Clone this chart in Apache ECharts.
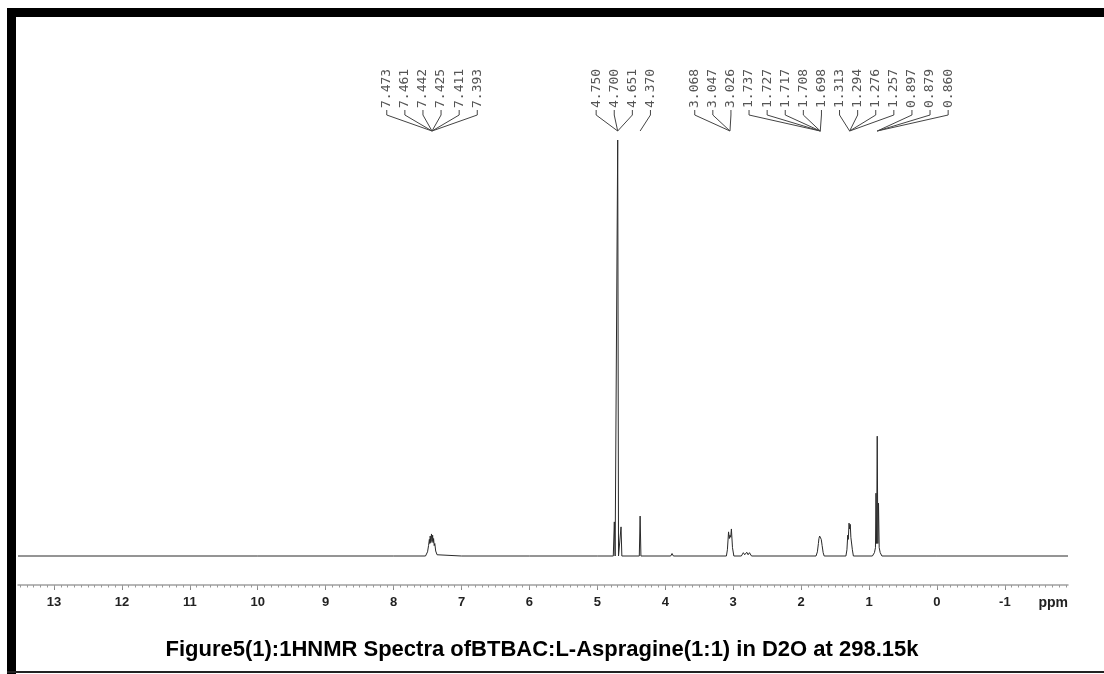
<!DOCTYPE html>
<html>
<head>
<meta charset="utf-8">
<script src="https://cdn.jsdelivr.net/npm/echarts@6/dist/echarts.min.js"></script>
<style>
  html, body { margin: 0; padding: 0; background: #fff; }
  #chart { width: 1104px; height: 674px; }
</style>
</head>
<body>
<div id="chart"></div>
<script>
// ---- DATA ----
const ppmRange = [-1.93, 13.53];               // axis extent (ppm)
const majorTicks = [13, 12, 11, 10, 9, 8, 7, 6, 5, 4, 3, 2, 1, 0, -1];
const axisUnit = 'ppm';
const titleText = 'Figure5(1):1HNMR Spectra ofBTBAC:L-Aspragine(1:1) in D2O at 298.15k';

// spectrum points [ppm, relative intensity], in descending ppm
const baselineStart = [[13.53, 0], [10.0, 0], [8.0, 0]];
const aromaticCluster = [
  [7.53, 0], [7.50, 1.0], [7.485, 2.5], [7.473, 4.0], [7.467, 3.0], [7.461, 4.8],
  [7.452, 3.2], [7.442, 5.3], [7.433, 3.5], [7.425, 5.0], [7.418, 3.2], [7.411, 4.2],
  [7.402, 2.5], [7.393, 3.0], [7.38, 1.2], [7.36, 0.3], [7.34, 0]
];
const baselineMid = [[7.0, 0], [6.0, 0], [5.0, 0]];
const waterRegion = [
  [4.765, 0], [4.750, 8.2], [4.738, 0], [4.712, 0], [4.700, 100], [4.688, 0],
  [4.663, 0], [4.651, 7.0], [4.639, 0],
  [4.382, 0], [4.370, 9.6], [4.358, 0],
  [3.92, 0], [3.90, 0.6], [3.88, 0]
];
const nMethyleneCluster = [
  [3.10, 0], [3.085, 1.5], [3.068, 5.8], [3.057, 4.2], [3.047, 5.0], [3.036, 4.5],
  [3.026, 6.5], [3.01, 2.0], [2.99, 0],
  [2.88, 0], [2.85, 0.8], [2.83, 0.3], [2.80, 0.9], [2.78, 0.3], [2.76, 0.8], [2.73, 0]
];
const butylCH2a = [
  [1.78, 0], [1.76, 1.0], [1.745, 3.0], [1.737, 4.2], [1.732, 3.8], [1.727, 4.8],
  [1.722, 4.5], [1.717, 5.2], [1.712, 4.8], [1.708, 4.9], [1.703, 4.0], [1.698, 4.0],
  [1.69, 2.5], [1.675, 0.8], [1.66, 0]
];
const butylCH2b = [
  [1.34, 0], [1.325, 1.5], [1.313, 5.0], [1.305, 4.0], [1.294, 7.9], [1.285, 6.5],
  [1.276, 7.6], [1.267, 4.5], [1.257, 4.8], [1.245, 1.5], [1.23, 0]
];
const methylTriplet = [
  [0.95, 0], [0.92, 0.8], [0.905, 2.0], [0.897, 15.1], [0.888, 3.0], [0.879, 28.8],
  [0.870, 3.0], [0.860, 12.7], [0.85, 2.0], [0.835, 0.8], [0.81, 0]
];
const baselineEnd = [[0.0, 0], [-1.93, 0]];

// peak-pick labels, grouped by multiplet; multiplets grouped into label blocks
const multiplets = [
  ['7.473', '7.461', '7.442', '7.425', '7.411', '7.393'],
  ['4.750', '4.700', '4.651'],
  ['4.370'],
  ['3.068', '3.047', '3.026'],
  ['1.737', '1.727', '1.717', '1.708', '1.698'],
  ['1.313', '1.294', '1.276', '1.257'],
  ['0.897', '0.879', '0.860']
];
const labelBlocks = [[0], [1, 2], [3, 4, 5, 6]];

// ---- CHART ----
const spectrum = [].concat(baselineStart, aromaticCluster, baselineMid, waterRegion,
  nMethyleneCluster, butylCH2a, butylCH2b, methylTriplet, baselineEnd);

const minorTicks = [];
for (let i = Math.round(ppmRange[0] * 10); i <= Math.round(ppmRange[1] * 10); i++) {
  minorTicks.push(i / 10);
}

const chart = echarts.init(document.getElementById('chart'), null, { renderer: 'canvas' });

const GRID = { left: 18, right: 36, top: 140, bottom: 89 };

chart.setOption({
  backgroundColor: '#ffffff',
  animation: false,
  grid: GRID,
  xAxis: [{
    type: 'value',
    min: ppmRange[0],
    max: ppmRange[1],
    inverse: true,
    position: 'bottom',
    axisLine: { show: true, onZero: false, lineStyle: { color: '#a0a0a0', width: 1.5 } },
    axisTick: { show: true, customValues: majorTicks, length: 5, lineStyle: { color: '#888', width: 1 } },
    axisLabel: {
      show: true, customValues: majorTicks, margin: 11,
      fontFamily: 'Liberation Sans, Arial, sans-serif', fontWeight: 'bold', fontSize: 13, color: '#222'
    },
    splitLine: { show: false }
  }, {
    type: 'value',
    min: ppmRange[0],
    max: ppmRange[1],
    inverse: true,
    position: 'bottom',
    axisLine: { show: false, onZero: false },
    axisTick: { show: true, customValues: minorTicks, length: 2.5, lineStyle: { color: '#999', width: 1 } },
    axisLabel: { show: false },
    splitLine: { show: false }
  }],
  yAxis: {
    type: 'value',
    min: -6.97,
    max: 100,
    show: false
  },
  series: [{
    type: 'line',
    data: spectrum,
    xAxisIndex: 0,
    showSymbol: false,
    symbol: 'none',
    lineStyle: { color: '#2a2a2a', width: 1 },
    clip: false
  }]
});

// ---- annotations & frame ----
const graphics = [];
const LABEL_SPACING = 18.1;
const LABEL_BOTTOM = 108;
const KNEE_Y = 115;
const TARGET_Y = 131;
const px = v => chart.convertToPixel({ xAxisIndex: 0, yAxisIndex: 0 }, [v, 0])[0];

labelBlocks.forEach(block => {
  const items = [];
  block.forEach(mi => {
    const vals = multiplets[mi].map(Number);
    const mean = vals.reduce((a, b) => a + b, 0) / vals.length;
    multiplets[mi].forEach(t => items.push({ text: t, target: mean }));
  });
  const mean = items.reduce((a, b) => a + Number(b.text), 0) / items.length;
  const cx = px(mean);
  const n = items.length;
  items.forEach((it, i) => {
    const lx = cx + (i - (n - 1) / 2) * LABEL_SPACING;
    const tx = px(it.target);
    graphics.push({
      type: 'text',
      x: lx, y: LABEL_BOTTOM,
      rotation: Math.PI / 2,
      style: {
        text: it.text, x: 0, y: 0,
        align: 'left', verticalAlign: 'middle',
        font: '13px "DejaVu Sans Mono", monospace',
        fill: '#555'
      },
      silent: true
    });
    graphics.push({
      type: 'polyline',
      shape: { points: [[lx, LABEL_BOTTOM + 2], [lx, KNEE_Y], [tx, TARGET_Y]] },
      style: { stroke: '#444', lineWidth: 1, fill: null },
      silent: true
    });
  });
});

// axis unit label at the right end, level with the tick labels
graphics.push({
  type: 'text',
  x: 1104 - GRID.right, y: 603,
  style: {
    text: axisUnit, align: 'right', verticalAlign: 'middle',
    font: 'bold 14px "Liberation Sans", Arial, sans-serif', fill: '#222'
  },
  silent: true
});

// caption
graphics.push({
  type: 'text',
  x: 542, y: 650,
  style: {
    text: titleText, align: 'center', verticalAlign: 'middle',
    font: 'bold 22px "Liberation Sans", Arial, sans-serif', fill: '#000'
  },
  silent: true
});

// black picture frame
graphics.push({ type: 'rect', shape: { x: 7, y: 8, width: 1097, height: 9 }, style: { fill: '#000' }, silent: true });
graphics.push({ type: 'rect', shape: { x: 7, y: 8, width: 9, height: 666 }, style: { fill: '#000' }, silent: true });
graphics.push({ type: 'rect', shape: { x: 7, y: 671, width: 1097, height: 2 }, style: { fill: '#222' }, silent: true });

chart.setOption({ graphic: graphics });
</script>
</body>
</html>
